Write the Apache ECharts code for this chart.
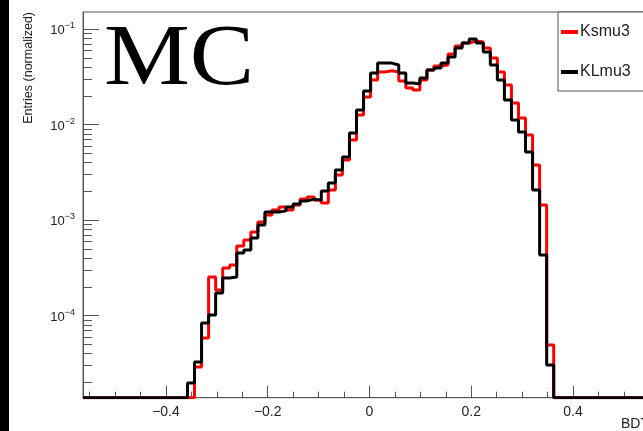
<!DOCTYPE html>
<html><head><meta charset="utf-8">
<script src="https://cdn.jsdelivr.net/npm/echarts@6/dist/echarts.min.js"></script>
<style>html,body{margin:0;padding:0;background:#fff;overflow:hidden}#c{width:643px;height:431px}</style>
</head><body><div id="c"></div>
<script>
// Histogram binning (left edge of first listed bin, bin width)
const binStart = -0.3577;
const binWidth = 0.01384;
// Ksmu3 (red) normalized entries per bin; 0 = empty bin
const ksmu3 = [0, 2.90e-5, 5.85e-5, 2.54e-4, 1.86e-4, 3.15e-4, 3.39e-4, 5.36e-4, 6.19e-4, 7.52e-4,
  9.57e-4, 1.13e-3, 1.28e-3, 1.37e-3, 1.28e-3, 1.44e-3, 1.66e-3, 1.75e-3, 1.62e-3, 1.51e-3,
  2.07e-3, 2.97e-3, 4.26e-3, 6.90e-3, 1.26e-2, 1.94e-2, 2.92e-2, 3.55e-2, 3.65e-2, 3.55e-2,
  2.85e-2, 2.42e-2, 2.30e-2, 2.92e-2, 3.72e-2, 4.10e-2, 4.20e-2, 5.47e-2, 6.64e-2, 7.14e-2,
  7.48e-2, 7.31e-2, 6.32e-2, 4.98e-2, 3.55e-2, 2.59e-2, 1.68e-2, 1.17e-2, 7.78e-3, 3.78e-3,
  1.44e-3, 4.94e-5];
// KLmu3 (black)
const klmu3 = [1.98e-5, 3.28e-5, 8.39e-5, 1.02e-4, 1.73e-4, 2.48e-4, 2.54e-4, 4.53e-4, 4.87e-4, 6.50e-4,
  8.89e-4, 1.22e-3, 1.22e-3, 1.25e-3, 1.37e-3, 1.48e-3, 1.59e-3, 1.66e-3, 1.62e-3, 2.02e-3,
  2.45e-3, 3.35e-3, 4.58e-3, 8.16e-3, 1.42e-2, 2.24e-2, 3.46e-2, 4.40e-2, 4.40e-2, 4.20e-2,
  3.46e-2, 2.72e-2, 2.66e-2, 3.07e-2, 3.72e-2, 3.91e-2, 4.40e-2, 5.09e-2, 6.32e-2, 7.14e-2,
  7.86e-2, 7.14e-2, 5.74e-2, 4.20e-2, 2.92e-2, 1.81e-2, 1.12e-2, 8.36e-3, 5.16e-3, 2.07e-3,
  4.31e-4, 3.05e-5];
const seriesNames = ['Ksmu3', 'KLmu3'];
const xMin = -0.563, xMax = 0.563;
const yMin = 1.387e-5, yMax = 0.1507;
const xMajorTicks = [-0.4, -0.2, 0, 0.2, 0.4];
const xMinorTicks = [-0.55, -0.5, -0.45, -0.35, -0.3, -0.25, -0.15, -0.1, -0.05, 0.05, 0.1, 0.15, 0.25, 0.3, 0.35, 0.45, 0.5, 0.55];
const yDecadeExps = [-4, -3, -2, -1];
const yMinorMantissas = [2, 3, 4, 5, 6, 7, 8, 9];
const yMinorDecades = [-5, -4, -3, -2];

const lg = v => Math.log10(v > 0 ? v : yMin);
function stepPoints(vals) {
  const pts = [[xMin, lg(0)]];
  vals.forEach((v, i) => pts.push([binStart + i * binWidth, lg(v)]));
  pts.push([binStart + vals.length * binWidth, lg(0)]);
  pts.push([xMax, lg(0)]);
  return pts;
}
const yMinorTicks = [];
yMinorDecades.forEach(d => yMinorMantissas.forEach(m => {
  const v = Math.log10(m) + d;
  if (v > lg(yMin) && v < lg(yMax)) yMinorTicks.push(v);
}));

const axisCol = '#555';
const txtCol = '#222';
const chart = echarts.init(document.getElementById('c'), null, {renderer: 'canvas'});
const sup = {'-1': '−1', '-2': '−2', '-3': '−3', '-4': '−4'};
chart.setOption({
  animation: false,
  backgroundColor: '#fff',
  grid: {left: 83, top: 12, width: 573, height: 385.7, outerBoundsMode: 'none', containLabel: false,
    show: true, borderColor: axisCol, borderWidth: 1, backgroundColor: 'transparent'},
  legend: {
    data: seriesNames, orient: 'vertical', left: 558, top: 12,
    padding: [12, 60, 11, 3], itemGap: 24, itemWidth: 17, itemHeight: 4, icon: 'rect',
    backgroundColor: '#fff', borderColor: axisCol, borderWidth: 1, borderRadius: 0,
    textStyle: {fontFamily: 'Liberation Sans', fontSize: 16, color: txtCol, padding: [0, 0, 0, -3]}
  },
  xAxis: [{
    type: 'value', min: xMin, max: xMax, position: 'bottom',
    axisLine: {show: true, onZero: false, lineStyle: {color: axisCol, width: 1}},
    axisTick: {show: true, inside: true, length: 12, customValues: xMajorTicks, lineStyle: {color: axisCol}},
    axisLabel: {show: true, customValues: xMajorTicks, margin: 7, fontFamily: 'Liberation Sans', fontSize: 14, color: txtCol,
      formatter: v => (Math.abs(v) < 1e-9 ? '0' : (v < 0 ? '−' : '') + Math.abs(v).toFixed(1))},
    splitLine: {show: false}
  }, {
    type: 'value', min: xMin, max: xMax, position: 'bottom',
    axisLine: {show: false, onZero: false},
    axisTick: {show: true, inside: true, length: 6, customValues: xMinorTicks, lineStyle: {color: axisCol}},
    axisLabel: {show: false}, splitLine: {show: false}
  }],
  yAxis: [{
    type: 'value', min: lg(yMin), max: lg(yMax), position: 'left',
    axisLine: {show: true, onZero: false, lineStyle: {color: axisCol, width: 1}},
    axisTick: {show: true, inside: true, length: 16, customValues: yDecadeExps, lineStyle: {color: axisCol}},
    axisLabel: {show: true, customValues: yDecadeExps, margin: 8, align: 'right',
      formatter: v => '{b|10}{s|' + sup[String(Math.round(v))] + '}',
      rich: {
        b: {fontFamily: 'Liberation Sans', fontSize: 13, lineHeight: 13, color: txtCol, padding: [3, 0, 0, 0]},
        s: {fontFamily: 'Liberation Sans', fontSize: 9, lineHeight: 9, color: txtCol, padding: [0, 0, 7, 0]}
      }},
    splitLine: {show: false}
  }, {
    type: 'value', min: lg(yMin), max: lg(yMax), position: 'left',
    axisLine: {show: false, onZero: false},
    axisTick: {show: true, inside: true, length: 9, customValues: yMinorTicks, lineStyle: {color: axisCol}},
    axisLabel: {show: false}, splitLine: {show: false}
  }],
  series: [{
    name: seriesNames[0], type: 'line', step: 'end', symbol: 'none', data: stepPoints(ksmu3),
    lineStyle: {color: '#ff0000', width: 3}, itemStyle: {color: '#ff0000'}, z: 2
  }, {
    name: seriesNames[1], type: 'line', step: 'end', symbol: 'none', data: stepPoints(klmu3),
    lineStyle: {color: '#000000', width: 3}, itemStyle: {color: '#000000'}, z: 3
  }],
  graphic: [
    {type: 'rect', left: 0, top: 0, shape: {width: 9, height: 431}, style: {fill: '#000'}},
    {type: 'text', x: 104, y: 61, scaleX: 1.11, style: {text: 'MC', fontFamily: 'Liberation Serif', fontSize: 87, fill: '#000', verticalAlign: 'middle', align: 'left'}},
    {type: 'text', x: 29, y: 12, rotation: Math.PI / 2, style: {text: 'Entries (normalized)', fontFamily: 'Liberation Sans', fontSize: 12.5, fill: txtCol, align: 'right', verticalAlign: 'middle'}},
    {type: 'text', x: 621, y: 424, style: {text: 'BDT', fontFamily: 'Liberation Sans', fontSize: 14, fill: txtCol, align: 'left', verticalAlign: 'middle'}}
  ]
});
</script></body></html>
